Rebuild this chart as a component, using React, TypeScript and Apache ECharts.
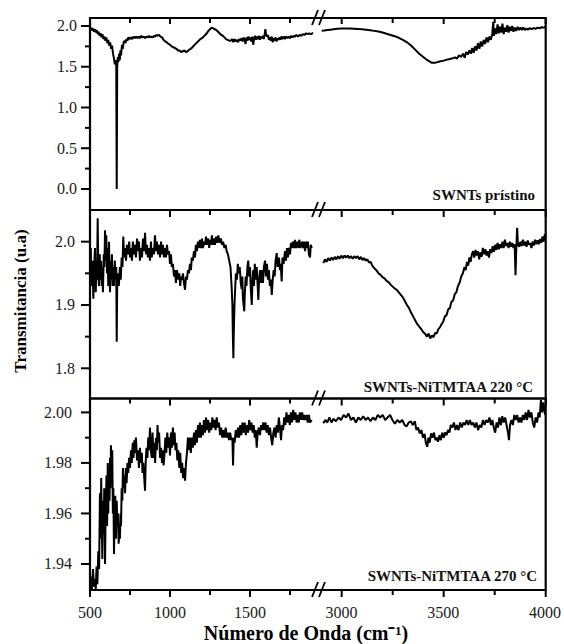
import React, { useEffect, useRef } from "react";
import * as echarts from "echarts";

// ---------- data ----------
const panelNames = ["SWNTs prístino", "SWNTs-NiTMTAA 220 °C", "SWNTs-NiTMTAA 270 °C"];
const xTitle = "Número de Onda (cm⁻¹)";
const yTitle = "Transmitancia (u.a)";

const xLeftRange = [500, 1918.75];
const xRightRange = [2879, 4000];
const xMajorLeft = [500, 1000, 1500];
const xMinorLeft = [750, 1250, 1750];
const xMajorRight = [3000, 3500, 4000];
const xMinorRight = [3250, 3750];

const yRanges = [
  [-0.258, 2.098],
  [1.7523, 2.05],
  [1.9297, 2.0055],
];
const yMajor = [
  [0, 0.5, 1.0, 1.5, 2.0],
  [1.8, 1.9, 2.0],
  [1.94, 1.96, 1.98, 2.0],
];
const yMinor = [
  [0.25, 0.75, 1.25, 1.75],
  [1.85, 1.95],
  [1.95, 1.97, 1.99],
];
const yDecimals = [1, 1, 2];

const pristineLeft = [
  [500, 1.99], [505, 1.95], [510, 1.98], [515, 1.94], [520, 1.97], [525, 1.93], [530, 1.96], [536, 1.92],
  [542, 1.95], [548, 1.9], [554, 1.93], [560, 1.88], [566, 1.91], [572, 1.86], [578, 1.9], [584, 1.84],
  [590, 1.87], [596, 1.82], [602, 1.86], [608, 1.79], [614, 1.83], [620, 1.76], [626, 1.8], [632, 1.72],
  [638, 1.76], [644, 1.66], [650, 1.6], [655, 1.53], [660, 1.58], [664, 1.55], [667, 0.0], [670, 1.5],
  [674, 1.62], [678, 1.56], [682, 1.66], [686, 1.58], [690, 1.7], [694, 1.64], [700, 1.77], [705, 1.72],
  [710, 1.8], [716, 1.82], [722, 1.79], [728, 1.84], [734, 1.82], [740, 1.86], [748, 1.84], [756, 1.86],
  [764, 1.84], [772, 1.87], [780, 1.85], [788, 1.87], [796, 1.85], [804, 1.87], [812, 1.85], [820, 1.88],
  [828, 1.86], [836, 1.87], [844, 1.85], [852, 1.87], [860, 1.86], [868, 1.88], [876, 1.86], [884, 1.87],
  [892, 1.86], [900, 1.88], [908, 1.87], [916, 1.89], [924, 1.88], [932, 1.89], [940, 1.87], [950, 1.86],
  [960, 1.83], [970, 1.81], [980, 1.8], [990, 1.78], [1000, 1.77], [1010, 1.75], [1020, 1.74], [1030, 1.73],
  [1040, 1.72], [1050, 1.7], [1060, 1.7], [1070, 1.68], [1080, 1.69], [1090, 1.7], [1100, 1.68], [1110, 1.69],
  [1120, 1.71], [1130, 1.72], [1140, 1.74], [1150, 1.76], [1160, 1.78], [1170, 1.8], [1180, 1.82], [1190, 1.84],
  [1200, 1.85], [1210, 1.87], [1220, 1.89], [1230, 1.91], [1240, 1.94], [1250, 1.96], [1260, 1.98], [1270, 1.97],
  [1280, 1.96], [1290, 1.95], [1300, 1.93], [1310, 1.91], [1320, 1.89], [1330, 1.88], [1340, 1.86], [1350, 1.84],
  [1360, 1.83], [1370, 1.82], [1380, 1.82], [1388, 1.84], [1395, 1.8], [1402, 1.84], [1410, 1.81], [1418, 1.83],
  [1425, 1.8], [1432, 1.84], [1440, 1.82], [1447, 1.85], [1454, 1.81], [1460, 1.86], [1466, 1.83], [1472, 1.78],
  [1478, 1.86], [1484, 1.82], [1490, 1.87], [1496, 1.83], [1502, 1.86], [1508, 1.81], [1514, 1.87], [1520, 1.77],
  [1526, 1.85], [1532, 1.88], [1538, 1.83], [1544, 1.87], [1550, 1.84], [1556, 1.88], [1562, 1.83], [1568, 1.87],
  [1574, 1.85], [1580, 1.88], [1586, 1.84], [1592, 1.9], [1596, 1.96], [1600, 1.9], [1606, 1.87], [1612, 1.89],
  [1618, 1.83], [1624, 1.86], [1630, 1.82], [1636, 1.87], [1642, 1.8], [1648, 1.85], [1654, 1.82], [1660, 1.86],
  [1666, 1.81], [1672, 1.85], [1678, 1.83], [1684, 1.86], [1690, 1.83], [1696, 1.87], [1702, 1.84], [1710, 1.87],
  [1718, 1.84], [1726, 1.87], [1734, 1.85], [1742, 1.87], [1750, 1.85], [1758, 1.88], [1766, 1.86], [1774, 1.88],
  [1782, 1.87], [1790, 1.89], [1800, 1.87], [1810, 1.89], [1820, 1.88], [1830, 1.9], [1840, 1.89], [1850, 1.91],
  [1860, 1.9], [1870, 1.91], [1880, 1.9], [1890, 1.91], [1895, 1.91],
];
const pristineRight = [
  [2902, 1.94], [2915, 1.945], [2930, 1.95], [2945, 1.955], [2960, 1.96], [2980, 1.965], [3000, 1.97], [3020, 1.97],
  [3040, 1.968], [3060, 1.966], [3080, 1.963], [3100, 1.96], [3120, 1.955], [3140, 1.948], [3160, 1.94], [3180, 1.932],
  [3200, 1.92], [3220, 1.905], [3240, 1.89], [3260, 1.875], [3280, 1.855], [3300, 1.83], [3320, 1.8], [3340, 1.76],
  [3360, 1.71], [3380, 1.66], [3400, 1.62], [3420, 1.58], [3440, 1.55], [3460, 1.55], [3480, 1.565], [3500, 1.575],
  [3520, 1.59], [3540, 1.6], [3555, 1.615], [3565, 1.6], [3575, 1.64], [3585, 1.62], [3595, 1.66], [3603, 1.61],
  [3610, 1.68], [3618, 1.65], [3626, 1.7], [3633, 1.66], [3640, 1.73], [3647, 1.67], [3654, 1.75], [3661, 1.7],
  [3668, 1.79], [3675, 1.72], [3682, 1.81], [3689, 1.75], [3696, 1.83], [3703, 1.78], [3710, 1.86], [3717, 1.8],
  [3724, 1.87], [3731, 1.83], [3738, 1.9], [3743, 2.05], [3746, 1.88], [3752, 1.97], [3758, 1.9], [3764, 2.02],
  [3770, 1.91], [3776, 1.99], [3782, 1.92], [3788, 2.03], [3794, 1.9], [3800, 1.98], [3806, 1.93], [3812, 2.01],
  [3818, 1.92], [3824, 1.99], [3830, 1.94], [3836, 2.0], [3842, 1.93], [3848, 1.98], [3855, 1.94], [3862, 1.99],
  [3869, 1.95], [3876, 1.98], [3883, 1.95], [3890, 1.98], [3898, 1.95], [3906, 1.97], [3914, 1.955], [3922, 1.975],
  [3930, 1.96], [3940, 1.975], [3950, 1.965], [3960, 1.98], [3970, 1.97], [3980, 1.985], [3990, 1.98], [4000, 1.99],
];

const nt220Left = [
  [500, 1.95], [505, 1.99], [510, 1.93], [515, 1.97], [521, 1.91], [526, 1.96], [531, 1.99], [536, 1.92],
  [540, 1.97], [544, 1.94], [548, 2.037], [552, 1.95], [556, 1.93], [561, 1.98], [565, 1.94], [569, 1.97],
  [573, 1.93], [577, 1.96], [581, 1.92], [586, 1.98], [590, 1.96], [594, 2.018], [598, 1.97], [602, 2.01],
  [606, 1.95], [610, 1.99], [614, 1.93], [619, 2.0], [622, 1.95], [625, 1.92], [629, 1.97], [633, 1.94],
  [637, 1.98], [641, 1.93], [645, 1.96], [650, 1.93], [655, 1.97], [660, 1.94], [664, 1.96], [667, 1.842],
  [670, 1.93], [675, 1.95], [680, 1.93], [687, 1.96], [692, 1.94], [698, 1.975], [703, 1.96], [708, 2.008],
  [713, 1.975], [719, 1.99], [725, 1.97], [731, 1.995], [739, 1.98], [745, 2.0], [750, 1.975], [756, 1.99],
  [762, 1.97], [768, 2.0], [775, 1.98], [781, 1.995], [787, 1.975], [794, 2.005], [800, 1.985], [806, 2.0],
  [812, 1.97], [819, 1.99], [825, 1.975], [831, 2.005], [838, 1.985], [844, 2.014], [850, 1.98], [856, 1.995],
  [862, 1.975], [868, 1.99], [875, 1.97], [881, 2.0], [886, 1.975], [892, 1.99], [900, 1.98], [906, 2.01],
  [912, 1.985], [918, 2.0], [925, 1.98], [931, 1.995], [938, 1.975], [944, 2.0], [950, 1.98], [956, 1.995],
  [962, 1.975], [969, 1.99], [975, 1.975], [981, 1.995], [987, 1.98], [994, 1.985], [1000, 1.965], [1006, 1.98],
  [1011, 1.96], [1018, 1.965], [1025, 1.945], [1031, 1.955], [1037, 1.935], [1044, 1.955], [1052, 1.94], [1058, 1.95],
  [1064, 1.93], [1069, 1.945], [1075, 1.94], [1081, 1.95], [1087, 1.935], [1094, 1.924], [1100, 1.945], [1106, 1.94],
  [1112, 1.955], [1118, 1.95], [1125, 1.965], [1131, 1.955], [1136, 1.975], [1143, 1.97], [1150, 1.985], [1156, 1.975],
  [1162, 1.995], [1168, 1.985], [1175, 2.0], [1181, 1.99], [1187, 2.003], [1194, 1.99], [1200, 2.005], [1206, 1.99],
  [1212, 2.0], [1219, 1.995], [1225, 2.008], [1232, 1.995], [1239, 2.005], [1245, 1.99], [1250, 2.003], [1256, 1.995],
  [1262, 2.01], [1268, 1.995], [1275, 2.005], [1281, 1.995], [1288, 2.008], [1295, 1.998], [1302, 2.01], [1310, 1.998],
  [1318, 2.005], [1325, 1.995], [1332, 2.0], [1340, 1.99], [1348, 1.995], [1354, 1.985], [1362, 1.98], [1370, 1.97],
  [1378, 1.96], [1385, 1.93], [1390, 1.9], [1393, 1.85], [1396, 1.816], [1399, 1.86], [1403, 1.9], [1408, 1.93],
  [1412, 1.95], [1418, 1.94], [1424, 1.965], [1430, 1.95], [1436, 1.96], [1442, 1.935], [1448, 1.925], [1452, 1.945],
  [1456, 1.91], [1460, 1.9], [1464, 1.89], [1468, 1.92], [1473, 1.945], [1478, 1.93], [1484, 1.96], [1489, 1.97],
  [1494, 1.945], [1500, 1.96], [1505, 1.925], [1511, 1.9], [1516, 1.94], [1520, 1.955], [1525, 1.93], [1530, 1.965],
  [1536, 1.94], [1542, 1.96], [1547, 1.935], [1552, 1.908], [1557, 1.94], [1563, 1.955], [1569, 1.935], [1575, 1.955],
  [1581, 1.935], [1587, 1.96], [1594, 1.97], [1600, 1.945], [1606, 1.965], [1612, 1.94], [1618, 1.955], [1624, 1.93],
  [1630, 1.94], [1636, 1.916], [1642, 1.94], [1648, 1.955], [1654, 1.945], [1660, 1.97], [1667, 1.982], [1673, 1.96],
  [1681, 1.975], [1687, 1.955], [1692, 1.965], [1698, 1.937], [1703, 1.975], [1710, 1.965], [1719, 1.985], [1725, 1.97],
  [1731, 1.99], [1737, 1.975], [1744, 1.99], [1750, 1.98], [1756, 1.998], [1761, 1.99], [1768, 2.0], [1775, 1.99],
  [1781, 2.003], [1787, 1.99], [1794, 2.0], [1802, 1.99], [1808, 2.003], [1815, 1.99], [1825, 2.0], [1832, 1.99],
  [1838, 2.0], [1844, 1.985], [1850, 2.0], [1856, 1.99], [1862, 2.0], [1868, 1.98], [1875, 1.975], [1880, 1.995],
  [1886, 1.99],
];
const nt220Right = [
  [2910, 1.966], [2918, 1.972], [2926, 1.968], [2934, 1.974], [2942, 1.97], [2950, 1.975], [2958, 1.971], [2966, 1.976],
  [2974, 1.972], [2982, 1.977], [2990, 1.973], [2998, 1.978], [3006, 1.974], [3014, 1.978], [3022, 1.975], [3030, 1.978],
  [3038, 1.974], [3046, 1.977], [3054, 1.973], [3062, 1.977], [3070, 1.974], [3078, 1.977], [3086, 1.972], [3094, 1.976],
  [3102, 1.971], [3110, 1.974], [3118, 1.97], [3126, 1.972], [3134, 1.967], [3142, 1.968], [3150, 1.962], [3160, 1.958],
  [3170, 1.955], [3180, 1.95], [3190, 1.948], [3200, 1.944], [3210, 1.942], [3220, 1.938], [3230, 1.936], [3240, 1.932],
  [3250, 1.929], [3260, 1.926], [3270, 1.924], [3280, 1.92], [3290, 1.916], [3300, 1.912], [3310, 1.906], [3320, 1.9],
  [3330, 1.895], [3340, 1.888], [3350, 1.882], [3360, 1.876], [3370, 1.87], [3380, 1.866], [3390, 1.862], [3400, 1.857],
  [3410, 1.854], [3418, 1.85], [3426, 1.855], [3434, 1.847], [3442, 1.852], [3450, 1.849], [3458, 1.856], [3466, 1.855],
  [3474, 1.862], [3482, 1.865], [3490, 1.87], [3498, 1.874], [3506, 1.882], [3514, 1.884], [3522, 1.893], [3530, 1.895],
  [3538, 1.905], [3546, 1.907], [3554, 1.917], [3562, 1.92], [3570, 1.93], [3578, 1.935], [3586, 1.945], [3594, 1.95],
  [3602, 1.96], [3608, 1.955], [3614, 1.968], [3620, 1.962], [3626, 1.975], [3632, 1.968], [3638, 1.98], [3644, 1.985],
  [3650, 1.975], [3656, 1.987], [3662, 1.978], [3668, 1.985], [3674, 1.972], [3680, 1.983], [3686, 1.976], [3692, 1.99],
  [3698, 1.98], [3704, 1.988], [3710, 1.978], [3716, 1.985], [3722, 1.975], [3728, 1.988], [3734, 1.982], [3740, 1.993],
  [3746, 1.984], [3752, 1.995], [3758, 1.987], [3764, 1.998], [3770, 1.988], [3776, 1.996], [3782, 1.99], [3788, 2.0],
  [3794, 1.99], [3800, 2.003], [3806, 1.993], [3812, 1.998], [3818, 1.99], [3824, 2.0], [3830, 1.992], [3836, 1.998],
  [3842, 1.99], [3848, 1.996], [3852, 1.947], [3856, 1.99], [3860, 2.022], [3864, 1.995], [3870, 1.992], [3876, 2.0],
  [3882, 1.993], [3888, 2.003], [3894, 1.994], [3900, 2.0], [3906, 1.992], [3912, 2.002], [3918, 1.995], [3924, 1.998],
  [3930, 1.99], [3936, 2.0], [3942, 1.994], [3948, 2.003], [3954, 1.996], [3960, 2.002], [3966, 1.996], [3972, 2.004],
  [3978, 1.998], [3984, 2.008], [3990, 2.0], [3996, 2.012], [4000, 2.008],
];

const nt270Left = [
  [500, 1.929], [506, 1.935], [512, 1.93], [519, 1.938], [525, 1.931], [531, 1.934], [536, 1.93], [541, 1.939],
  [546, 1.932], [552, 1.945], [557, 1.938], [562, 1.968], [566, 1.95], [570, 1.974], [573, 1.96], [577, 1.942],
  [581, 1.965], [585, 1.952], [589, 1.97], [594, 1.94], [598, 1.962], [603, 1.975], [607, 1.955], [611, 1.98],
  [614, 1.96], [618, 1.978], [622, 1.965], [625, 1.982], [628, 1.97], [631, 1.987], [635, 1.975], [639, 1.985],
  [643, 1.96], [646, 1.97], [650, 1.944], [654, 1.96], [658, 1.967], [662, 1.95], [667, 1.965], [671, 1.955],
  [675, 1.96], [679, 1.948], [683, 1.953], [687, 1.95], [691, 1.96], [694, 1.955], [698, 1.97], [702, 1.965],
  [706, 1.978], [710, 1.97], [715, 1.975], [719, 1.968], [724, 1.978], [729, 1.972], [734, 1.98], [739, 1.976],
  [744, 1.982], [750, 1.978], [756, 1.985], [761, 1.98], [767, 1.988], [772, 1.982], [777, 1.989], [781, 1.984],
  [787, 1.99], [794, 1.981], [800, 1.985], [806, 1.978], [812, 1.986], [818, 1.98], [824, 1.984], [828, 1.976],
  [833, 1.98], [838, 1.975], [844, 1.969], [848, 1.98], [853, 1.986], [859, 1.982], [864, 1.99], [869, 1.985],
  [875, 1.994], [880, 1.985], [886, 1.982], [891, 1.992], [896, 1.982], [901, 1.988], [907, 1.98], [912, 1.99],
  [918, 1.985], [922, 1.995], [927, 1.988], [932, 1.992], [938, 1.982], [944, 1.986], [950, 1.98], [955, 1.985],
  [960, 1.979], [966, 1.984], [971, 1.99], [977, 1.984], [983, 1.992], [989, 1.986], [995, 1.99], [1000, 1.983],
  [1006, 1.992], [1012, 1.986], [1018, 1.994], [1023, 1.987], [1029, 1.992], [1034, 1.985], [1040, 1.988], [1046, 1.981],
  [1052, 1.985], [1058, 1.978], [1064, 1.984], [1070, 1.976], [1076, 1.98], [1082, 1.974], [1088, 1.978], [1094, 1.973],
  [1100, 1.98], [1106, 1.984], [1112, 1.99], [1118, 1.985], [1124, 1.99], [1130, 1.984], [1137, 1.99], [1143, 1.986],
  [1150, 1.992], [1156, 1.987], [1162, 1.993], [1168, 1.988], [1175, 1.995], [1181, 1.99], [1187, 1.996], [1193, 1.99],
  [1200, 1.995], [1206, 1.991], [1212, 1.997], [1219, 1.992], [1225, 1.998], [1232, 1.993], [1239, 1.997], [1245, 1.992],
  [1252, 1.996], [1258, 1.993], [1265, 1.998], [1271, 1.994], [1278, 1.997], [1285, 1.993], [1292, 1.998], [1299, 1.994],
  [1306, 1.996], [1313, 1.991], [1320, 1.994], [1327, 1.99], [1334, 1.993], [1341, 1.99], [1348, 1.994], [1355, 1.99],
  [1362, 1.992], [1369, 1.989], [1376, 1.992], [1383, 1.989], [1390, 1.99], [1394, 1.979], [1398, 1.99], [1404, 1.988],
  [1411, 1.993], [1418, 1.99], [1425, 1.994], [1432, 1.99], [1439, 1.995], [1446, 1.991], [1453, 1.996], [1460, 1.992],
  [1467, 1.996], [1474, 1.991], [1481, 1.995], [1488, 1.992], [1495, 1.997], [1502, 1.993], [1509, 1.996], [1516, 1.992],
  [1523, 1.995], [1530, 1.99], [1536, 1.993], [1542, 1.986], [1548, 1.992], [1555, 1.994], [1562, 1.991], [1569, 1.995],
  [1576, 1.993], [1583, 1.996], [1590, 1.993], [1597, 1.996], [1604, 1.992], [1611, 1.995], [1618, 1.991], [1625, 1.994],
  [1632, 1.99], [1639, 1.987], [1646, 1.992], [1653, 1.994], [1660, 1.99], [1667, 1.995], [1674, 1.992], [1680, 1.998],
  [1687, 1.994], [1694, 1.989], [1700, 1.995], [1707, 1.993], [1714, 1.998], [1721, 1.995], [1728, 2.0], [1735, 1.996],
  [1742, 1.999], [1749, 1.995], [1756, 2.0], [1763, 1.996], [1770, 2.001], [1777, 1.997], [1784, 2.0], [1791, 1.996],
  [1798, 1.999], [1805, 1.996], [1812, 2.0], [1819, 1.997], [1826, 2.0], [1833, 1.997], [1840, 1.999], [1847, 1.997],
  [1854, 1.999], [1861, 1.996], [1868, 1.999], [1875, 1.996], [1886, 1.997],
];
const nt270Right = [
  [2910, 1.9957], [2920, 1.997], [2930, 1.996], [2940, 1.998], [2950, 1.996], [2960, 1.9975], [2972, 1.9965], [2985, 1.998],
  [2997, 1.997], [3010, 1.999], [3022, 1.998], [3034, 1.9995], [3046, 1.997], [3058, 1.998], [3070, 1.996], [3082, 1.998],
  [3094, 1.997], [3106, 1.9985], [3118, 1.997], [3130, 1.998], [3142, 1.9965], [3154, 1.998], [3166, 1.997], [3178, 1.999],
  [3190, 1.998], [3202, 1.999], [3214, 1.997], [3226, 1.998], [3238, 1.999], [3250, 1.997], [3262, 1.9955], [3274, 1.997],
  [3286, 1.996], [3298, 1.997], [3310, 1.995], [3320, 1.9945], [3330, 1.996], [3340, 1.9965], [3350, 1.995], [3360, 1.9965],
  [3368, 1.993], [3376, 1.994], [3384, 1.9917], [3392, 1.993], [3400, 1.99], [3408, 1.9915], [3414, 1.988], [3421, 1.9864],
  [3427, 1.99], [3433, 1.988], [3440, 1.9917], [3447, 1.99], [3454, 1.992], [3461, 1.989], [3468, 1.99], [3474, 1.9884],
  [3481, 1.991], [3488, 1.989], [3495, 1.992], [3502, 1.99], [3509, 1.992], [3516, 1.991], [3523, 1.993], [3530, 1.992],
  [3537, 1.995], [3545, 1.994], [3552, 1.996], [3560, 1.993], [3567, 1.995], [3575, 1.993], [3583, 1.996], [3591, 1.994],
  [3599, 1.996], [3607, 1.995], [3615, 1.997], [3623, 1.995], [3631, 1.997], [3639, 1.995], [3647, 1.996], [3655, 1.994],
  [3663, 1.996], [3671, 1.993], [3679, 1.995], [3687, 1.994], [3695, 1.997], [3703, 1.995], [3711, 1.997], [3719, 1.996],
  [3727, 1.998], [3734, 1.995], [3741, 1.997], [3748, 1.994], [3755, 1.992], [3762, 1.996], [3769, 1.994], [3776, 1.998],
  [3783, 1.995], [3790, 1.9985], [3797, 1.996], [3804, 1.998], [3811, 1.995], [3818, 1.992], [3823, 1.989], [3828, 1.995],
  [3835, 1.997], [3842, 1.995], [3849, 1.999], [3856, 1.997], [3863, 1.999], [3870, 1.996], [3877, 1.998], [3884, 1.996],
  [3891, 1.999], [3898, 1.997], [3905, 2.0], [3912, 1.997], [3919, 2.001], [3926, 1.998], [3933, 2.0], [3940, 1.996],
  [3947, 1.994], [3954, 1.998], [3961, 1.996], [3968, 2.0], [3974, 1.998], [3980, 2.005], [3986, 2.0], [3992, 2.004],
  [4000, 1.999],
];

const seriesData = [
  [pristineLeft, pristineRight],
  [nt220Left, nt220Right],
  [nt270Left, nt270Right],
];

// ---------- layout ----------
const FONT = '"Liberation Serif", "Times New Roman", serif';
const panelTop = [18, 210, 398.5];
const panelBottom = [210, 398.5, 590];
const plotLeft = 90;
const breakX = 317;
const plotRight = 545.7;
const yLabelMargin = [13, 15, 18];
const labelRight = [535, 533, 537];
const labelY = [195, 387, 576];

function buildOption() {
  const grid: any[] = [];
  const xAxis: any[] = [];
  const yAxis: any[] = [];
  const series: any[] = [];
  const noLine = { show: false, onZero: false };

  for (let p = 0; p < 3; p++) {
    const h = panelBottom[p] - panelTop[p];
    for (let s = 0; s < 2; s++) {
      const g = grid.length;
      grid.push({
        left: s === 0 ? plotLeft : breakX,
        top: panelTop[p],
        width: s === 0 ? breakX - plotLeft : plotRight - breakX,
        height: h,
      });
      const range = s === 0 ? xLeftRange : xRightRange;
      const majors = s === 0 ? xMajorLeft : xMajorRight;
      xAxis.push({
        type: "value",
        gridIndex: g,
        min: range[0],
        max: range[1],
        position: "bottom",
        axisLine: noLine,
        splitLine: { show: false },
        axisTick: { show: false },
        axisLabel: {
          show: p === 2,
          customValues: majors,
          margin: 14,
          fontFamily: FONT,
          fontSize: 16,
          color: "#1a1a1a",
          formatter: (v: number) => String(v),
        },
      });
      const dec = yDecimals[p];
      yAxis.push({
        type: "value",
        gridIndex: g,
        position: "left",
        min: yRanges[p][0],
        max: yRanges[p][1],
        axisLine: noLine,
        splitLine: { show: false },
        axisTick: { show: false },
        axisLabel: {
          show: s === 0,
          customValues: yMajor[p],
          margin: yLabelMargin[p],
          fontFamily: FONT,
          fontSize: 16,
          color: "#1a1a1a",
          formatter: (v: number) => v.toFixed(dec),
        },
      });
      series.push({
        type: "line",
        name: panelNames[p] + (s === 0 ? " a" : " b"),
        xAxisIndex: g,
        yAxisIndex: g,
        data: seriesData[p][s],
        showSymbol: false,
        symbol: "none",
        lineStyle: { color: "#000", width: 2 },
        clip: true,
      });
    }
  }
  return { animation: false, backgroundColor: "#fff", grid, xAxis, yAxis, series };
}

// tick positions from the same panel layout and axis extents the grids use
function xPix(s: number, v: number) {
  const r = s === 0 ? xLeftRange : xRightRange;
  const x0 = s === 0 ? plotLeft : breakX;
  const x1 = s === 0 ? breakX : plotRight;
  return x0 + ((v - r[0]) / (r[1] - r[0])) * (x1 - x0);
}
function yPix(p: number, v: number) {
  const r = yRanges[p];
  return panelBottom[p] - ((v - r[0]) / (r[1] - r[0])) * (panelBottom[p] - panelTop[p]);
}

function buildGraphics() {
  const graphic: any[] = [];
  const seg = (x1: number, y1: number, x2: number, y2: number, w: number) =>
    graphic.push({ type: "line", z: 15, shape: { x1, y1, x2, y2 }, style: { stroke: "#000", lineWidth: w } });
  for (let p = 0; p < 3; p++) {
    for (let s = 0; s < 2; s++) {
      const majors = s === 0 ? xMajorLeft : xMajorRight;
      const minors = s === 0 ? xMinorLeft : xMinorRight;
      const yb = panelBottom[p];
      const yt = panelTop[p];
      majors.forEach((v) => { const x = xPix(s, v); seg(x, yb, x, yb + 7, 2); });
      minors.forEach((v) => { const x = xPix(s, v); seg(x, yb, x, yb + 5, 2); });
      if (p === 0) {
        majors.forEach((v) => { const x = xPix(s, v); seg(x, yt, x, yt + 6, 2); });
        minors.forEach((v) => { const x = xPix(s, v); seg(x, yt, x, yt + 5, 2); });
      }
    }
    yMajor[p].forEach((v) => { const y = yPix(p, v); seg(plotLeft - 9, y, plotLeft, y, 2); });
    yMinor[p].forEach((v) => { const y = yPix(p, v); seg(plotLeft - 5, y, plotLeft, y, 2); });
  }
  for (let p = 0; p < 3; p++) {
    graphic.push({
      type: "rect",
      z: 10,
      shape: { x: plotLeft, y: panelTop[p], width: plotRight - plotLeft, height: panelBottom[p] - panelTop[p] },
      style: { fill: "none", stroke: "#000", lineWidth: 2.2 },
    });
    graphic.push({
      type: "text",
      z: 11,
      x: labelRight[p],
      y: labelY[p],
      style: {
        text: panelNames[p],
        font: `bold 15px ${FONT}`,
        fill: "#111",
        align: "right",
        verticalAlign: "middle",
      },
    });
  }
  const borderYs = [18, 210, 398.5, 590];
  for (const by of borderYs) {
    for (const x0 of [312, 319]) {
      graphic.push({
        type: "line",
        z: 12,
        shape: { x1: x0, y1: by + 7, x2: x0 + 6, y2: by - 8 },
        style: { stroke: "#000", lineWidth: 1.8 },
      });
    }
  }
  graphic.push({
    type: "text",
    z: 11,
    x: 20,
    y: 301,
    rotation: Math.PI / 2,
    style: { text: yTitle, font: `bold 17px ${FONT}`, fill: "#000", align: "center", verticalAlign: "middle" },
  });
  graphic.push({
    type: "text",
    z: 11,
    x: 306,
    y: 633,
    style: { text: xTitle, font: `bold 20px ${FONT}`, fill: "#000", align: "center", verticalAlign: "middle" },
  });
  return graphic;
}

export default function App() {
  const ref = useRef<HTMLDivElement>(null);
  useEffect(() => {
    if (!ref.current) return;
    const chart = echarts.init(ref.current, undefined, { renderer: "svg" });
    const option: any = buildOption();
    option.graphic = buildGraphics();
    chart.setOption(option);
    return () => chart.dispose();
  }, []);
  return (
    <div
      ref={ref}
      style={{ position: "fixed", left: 0, top: 0, width: 564, height: 644, background: "#fff" }}
    />
  );
}
